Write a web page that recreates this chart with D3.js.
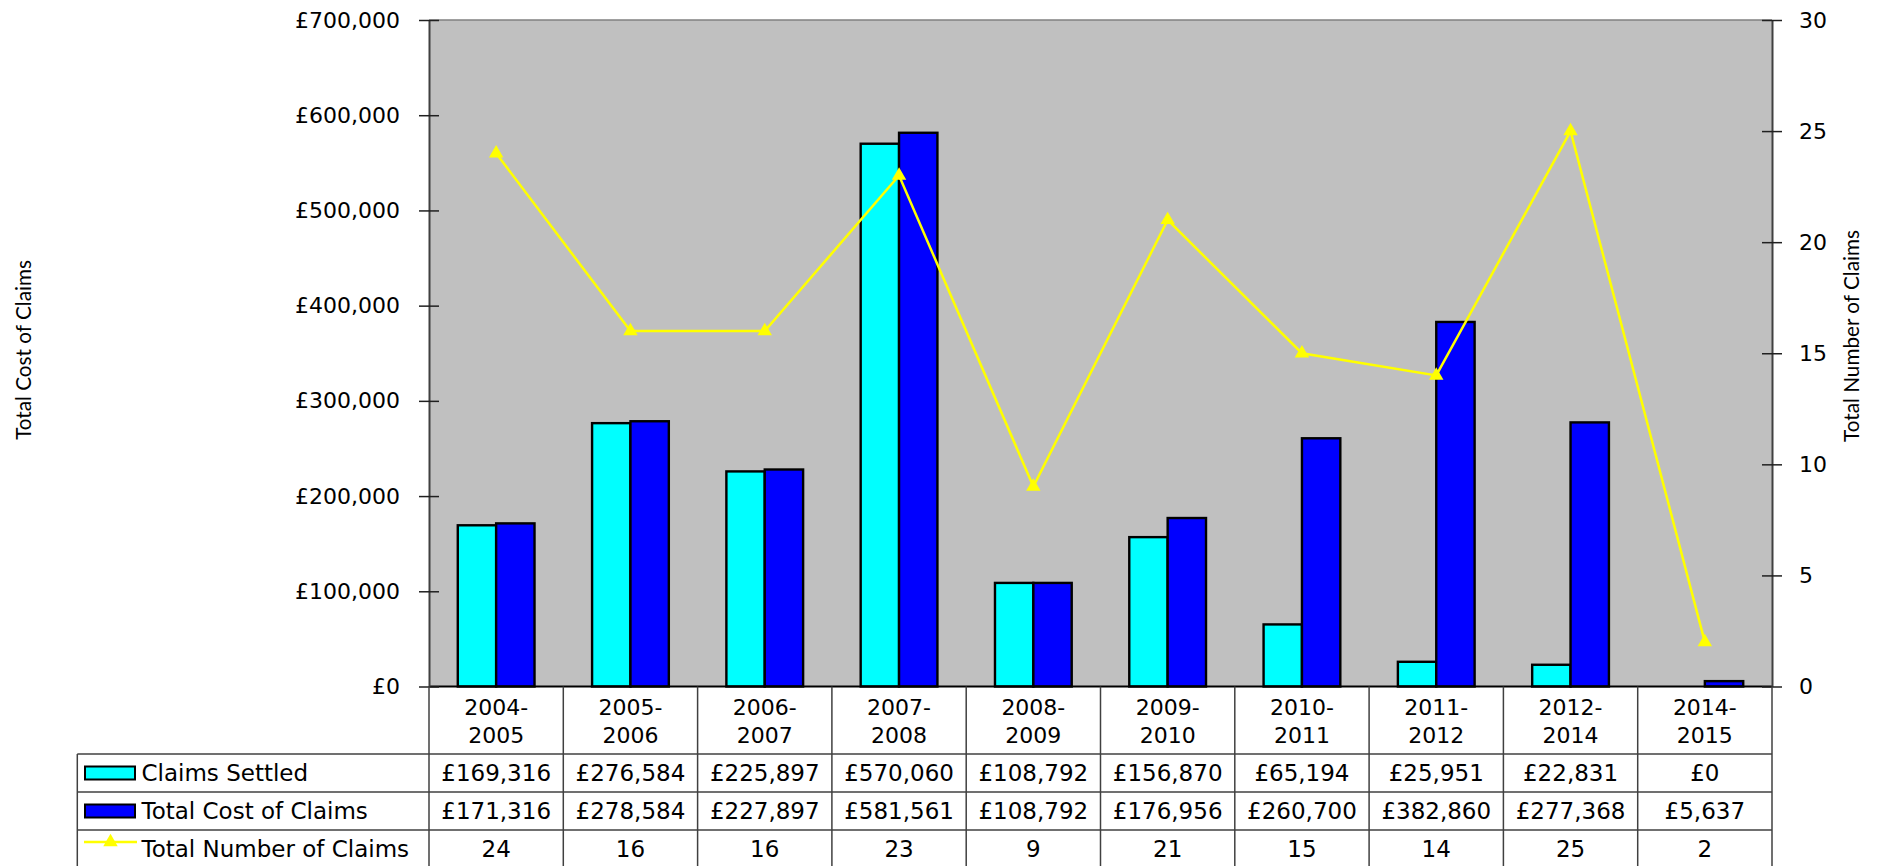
<!DOCTYPE html>
<html>
<head>
<meta charset="utf-8">
<script src="https://cdn.jsdelivr.net/npm/d3@7/dist/d3.min.js"></script>
<style>
  html, body { margin: 0; padding: 0; background: #fff; }
  svg { display: block; }
</style>
</head>
<body>
<svg id="chart" width="1877" height="866"></svg>
<script>
// Claims by financial year
const categories = ["2004-2005", "2005-2006", "2006-2007", "2007-2008", "2008-2009",
                    "2009-2010", "2010-2011", "2011-2012", "2012-2014", "2014-2015"];
const claimsSettled = [169316, 276584, 225897, 570060, 108792, 156870, 65194, 25951, 22831, 0];
const totalCost     = [171316, 278584, 227897, 581561, 108792, 176956, 260700, 382860, 277368, 5637];
const claimCounts   = [24, 16, 16, 23, 9, 21, 15, 14, 25, 2];

const costTicks  = [0, 100000, 200000, 300000, 400000, 500000, 600000, 700000];
const countTicks = [0, 5, 10, 15, 20, 25, 30];

const seriesNames = ["Claims Settled", "Total Cost of Claims", "Total Number of Claims"];
const leftTitle = "Total Cost of Claims";
const rightTitle = "Total Number of Claims";

// layout
const W = 1877, H = 866;
const plot = { left: 429, right: 1772, top: 20, bottom: 686.5 };
const table = { left: 77.3, rowTops: [754, 792, 830], rowH: 38 };
const colors = { settled: "#00FFFF", total: "#0000FF", count: "#FFFF00", plotBg: "#C0C0C0" };
const FONT = "'DejaVu Sans', Verdana, sans-serif";
const TITLE_FONT = "Lato, 'Open Sans', sans-serif";

const svg = d3.select("#chart");
svg.append("rect").attr("width", W).attr("height", H).attr("fill", "#fff");

const x = d3.scaleBand().domain(categories).range([plot.left, plot.right]).padding(0);
const xs = d3.scaleBand().domain(["settled", "total"]).range([0, x.bandwidth()])
  .paddingInner(0).paddingOuter(0.75);
const y = d3.scaleLinear().domain([0, 700000]).range([plot.bottom, plot.top]);
const y2 = d3.scaleLinear().domain([0, 30]).range([plot.bottom, plot.top]);

// plot area
svg.append("rect")
  .attr("x", plot.left).attr("y", plot.top)
  .attr("width", plot.right - plot.left).attr("height", plot.bottom - plot.top)
  .attr("fill", colors.plotBg);
svg.append("line")
  .attr("x1", plot.left).attr("x2", plot.right)
  .attr("y1", plot.top).attr("y2", plot.top)
  .attr("stroke", "#808080").attr("stroke-width", 1.5);

// bars
const barData = categories.map((c, i) => ({ c, settled: claimsSettled[i], total: totalCost[i] }));
const groups = svg.append("g").selectAll("g").data(barData).join("g")
  .attr("transform", d => `translate(${x(d.c)},0)`);
groups.selectAll("rect")
  .data(d => [{ k: "settled", v: d.settled }, { k: "total", v: d.total }].filter(e => e.v > 0))
  .join("rect")
  .attr("x", d => xs(d.k))
  .attr("y", d => y(d.v))
  .attr("width", xs.bandwidth())
  .attr("height", d => y(0) - y(d.v))
  .attr("fill", d => colors[d.k])
  .attr("stroke", "#000")
  .attr("stroke-width", 2.4);

// count line
const cx = (c) => x(c) + x.bandwidth() / 2;
const line = d3.line().x((d, i) => cx(categories[i])).y(d => y2(d));
svg.append("path")
  .datum(claimCounts)
  .attr("d", line)
  .attr("fill", "none")
  .attr("stroke", colors.count)
  .attr("stroke-width", 2.5);
const tri = d3.symbol().type(d3.symbolTriangle).size(90);
svg.append("g").selectAll("path").data(claimCounts).join("path")
  .attr("d", tri)
  .attr("transform", (d, i) => `translate(${cx(categories[i])},${y2(d)})`)
  .attr("fill", colors.count);

// zero baseline
svg.append("line")
  .attr("x1", plot.left).attr("x2", plot.right)
  .attr("y1", y(0)).attr("y2", y(0))
  .attr("stroke", "#000").attr("stroke-width", 2);

// left axis
const gl = svg.append("g").attr("transform", `translate(${plot.left},0)`)
  .call(d3.axisLeft(y).tickValues(costTicks)
    .tickFormat(d => "£" + d3.format(",")(d))
    .tickSize(10).tickSizeOuter(0).tickPadding(19));
gl.select(".domain").attr("stroke", "#404040").attr("stroke-width", 2);
gl.selectAll(".tick line").attr("x1", 10).attr("stroke", "#202020").attr("stroke-width", 1.5);
gl.selectAll(".tick text").attr("font-family", FONT).attr("font-size", 22).attr("fill", "#000");

// right axis
const gr = svg.append("g").attr("transform", `translate(${plot.right},0)`)
  .call(d3.axisRight(y2).tickValues(countTicks)
    .tickSize(10).tickSizeOuter(0).tickPadding(17));
gr.select(".domain").attr("stroke", "#404040").attr("stroke-width", 2);
gr.selectAll(".tick line").attr("x1", -10).attr("stroke", "#202020").attr("stroke-width", 1.5);
gr.selectAll(".tick text").attr("font-family", FONT).attr("font-size", 22).attr("fill", "#000");

// axis titles
svg.append("text")
  .attr("transform", "translate(24,350) rotate(-90)")
  .attr("text-anchor", "middle").attr("dy", "0.35em")
  .attr("font-family", TITLE_FONT).attr("font-size", 20.7).attr("fill", "#000")
  .text(leftTitle);
svg.append("text")
  .attr("transform", "translate(1852,336) rotate(-90)")
  .attr("text-anchor", "middle").attr("dy", "0.35em")
  .attr("font-family", TITLE_FONT).attr("font-size", 20.7).attr("fill", "#000")
  .text(rightTitle);

// data table
const tg = svg.append("g");
const lineStyle = sel => sel.attr("stroke", "#404040").attr("stroke-width", 1.5);
const tableBottom = table.rowTops[2] + table.rowH;

table.rowTops.forEach(t => {
  tg.append("line").attr("x1", table.left).attr("x2", plot.right)
    .attr("y1", t).attr("y2", t).call(lineStyle);
});
tg.append("line").attr("x1", table.left).attr("x2", plot.right)
  .attr("y1", tableBottom).attr("y2", tableBottom).call(lineStyle);
tg.append("line").attr("x1", table.left).attr("x2", table.left)
  .attr("y1", table.rowTops[0]).attr("y2", tableBottom).call(lineStyle);
const bounds = categories.map(c => x(c)).concat([plot.right]);
tg.selectAll(".vl").data(bounds).join("line")
  .attr("x1", d => d).attr("x2", d => d)
  .attr("y1", plot.bottom).attr("y2", tableBottom).call(lineStyle);

// category labels (two lines)
const catText = tg.selectAll(".cat").data(categories).join("text")
  .attr("text-anchor", "middle")
  .attr("font-family", FONT).attr("font-size", 22).attr("fill", "#000");
catText.append("tspan").attr("x", d => cx(d)).attr("y", 707).attr("dy", "0.36em")
  .text(d => d.split("-")[0] + "-");
catText.append("tspan").attr("x", d => cx(d)).attr("y", 735).attr("dy", "0.36em")
  .text(d => d.split("-")[1]);

// value rows
const money = d => "£" + d3.format(",")(d);
const rows = [
  { name: seriesNames[0], values: claimsSettled.map(money) },
  { name: seriesNames[1], values: totalCost.map(money) },
  { name: seriesNames[2], values: claimCounts.map(String) }
];
rows.forEach((r, ri) => {
  const mid = table.rowTops[ri] + table.rowH / 2;
  tg.selectAll(".v" + ri).data(r.values).join("text")
    .attr("x", (d, i) => cx(categories[i])).attr("y", mid).attr("dy", "0.36em")
    .attr("text-anchor", "middle")
    .attr("font-family", FONT).attr("font-size", 23).attr("fill", "#000")
    .text(d => d);
  tg.append("text")
    .attr("x", 141.5).attr("y", mid).attr("dy", "0.36em")
    .attr("font-family", FONT).attr("font-size", 23).attr("fill", "#000")
    .text(r.name);
});

// legend keys
[["settled", 0], ["total", 1]].forEach(([k, ri]) => {
  const mid = table.rowTops[ri] + table.rowH / 2;
  tg.append("rect").attr("x", 85).attr("y", mid - 6.5)
    .attr("width", 50).attr("height", 13)
    .attr("fill", colors[k]).attr("stroke", "#000").attr("stroke-width", 2);
});
{
  const ly = table.rowTops[2] + table.rowH / 2 - 7;
  tg.append("line").attr("x1", 84).attr("x2", 137).attr("y1", ly).attr("y2", ly)
    .attr("stroke", colors.count).attr("stroke-width", 2.5);
  tg.append("path").attr("d", tri).attr("transform", `translate(110.5,${ly})`)
    .attr("fill", colors.count);
}
</script>
</body>
</html>
